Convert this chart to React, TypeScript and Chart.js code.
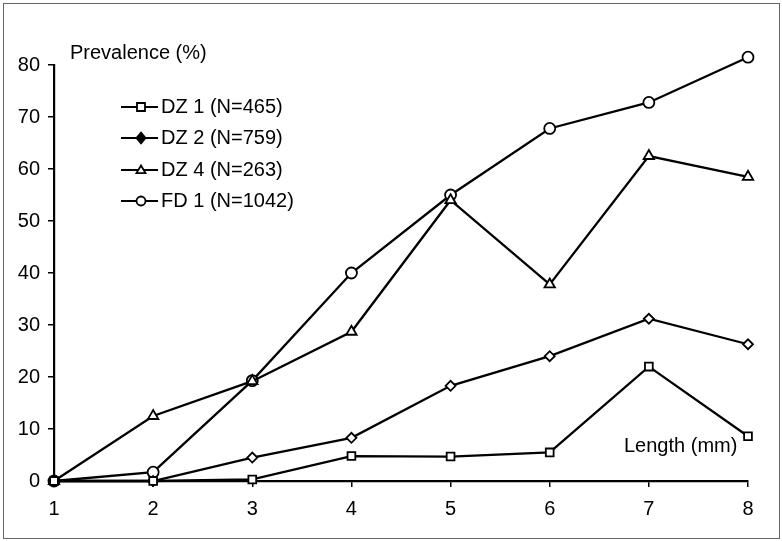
import React, { useEffect, useRef } from "react";
import { Chart, registerables } from "chart.js";

Chart.register(...registerables);

const lengths = [1, 2, 3, 4, 5, 6, 7, 8];
const dz1 = [0, 0, 0.3, 4.8, 4.7, 5.5, 22, 8.6];
const dz2 = [0, 0, 4.5, 8.3, 18.3, 24, 31.2, 26.3];
const dz4 = [0, 12.5, 19.2, 28.7, 54, 37.8, 62.5, 58.5];
const fd1 = [0, 1.7, 19.3, 40, 55, 67.8, 72.8, 81.5];
const seriesNames = ["DZ 1 (N=465)", "DZ 2 (N=759)", "DZ 4 (N=263)", "FD 1 (N=1042)"];
const seriesMarkers = ["rect", "rectRot", "triangle", "circle"];
const seriesRadius = [5.5, 5, 6, 5.5];
const legendFilled = [false, true, false, false];
const yTicks = [0, 10, 20, 30, 40, 50, 60, 70, 80];

const FONT = '"Liberation Sans", Arial, sans-serif';

function drawMarker(ctx: CanvasRenderingContext2D, style: string, x: number, y: number, r: number, filled: boolean) {
  ctx.save();
  ctx.beginPath();
  if (style === "rect") {
    ctx.rect(x - r, y - r, 2 * r, 2 * r);
  } else if (style === "rectRot") {
    ctx.moveTo(x, y - r * 1.2);
    ctx.lineTo(x + r, y);
    ctx.lineTo(x, y + r * 1.2);
    ctx.lineTo(x - r, y);
    ctx.closePath();
  } else if (style === "triangle") {
    ctx.moveTo(x, y - r);
    ctx.lineTo(x + r, y + r * 0.7);
    ctx.lineTo(x - r, y + r * 0.7);
    ctx.closePath();
  } else {
    ctx.arc(x, y, r, 0, Math.PI * 2);
  }
  ctx.fillStyle = filled ? "#000" : "#fff";
  ctx.fill();
  ctx.lineWidth = 1.8;
  ctx.strokeStyle = "#000";
  ctx.stroke();
  ctx.restore();
}

const annotationPlugin = {
  id: "annotations",
  afterDatasetsDraw(chart: any) {
    // draw markers of points that lie outside the chart area (library skips them)
    const ctx: CanvasRenderingContext2D = chart.ctx;
    const area = chart.chartArea;
    chart.data.datasets.forEach((_: any, di: number) => {
      const meta = chart.getDatasetMeta(di);
      meta.data.forEach((pt: any) => {
        if (pt.y < area.top - 1) {
          drawMarker(ctx, seriesMarkers[di], pt.x, pt.y, seriesRadius[di], false);
        }
      });
    });
  },
  afterDraw(chart: any) {
    const ctx: CanvasRenderingContext2D = chart.ctx;
    ctx.save();
    ctx.fillStyle = "#000";
    ctx.font = `20px ${FONT}`;
    ctx.textBaseline = "middle";
    ctx.textAlign = "left";
    ctx.fillText("Prevalence (%)", 70, 53);
    ctx.fillText("Length (mm)", 624, 446);
    const rowsY = [107, 138, 170, 201];
    seriesNames.forEach((name, i) => {
      const y = rowsY[i];
      ctx.beginPath();
      ctx.moveTo(121, y);
      ctx.lineTo(158, y);
      ctx.lineWidth = 2.2;
      ctx.strokeStyle = "#000";
      ctx.stroke();
      drawMarker(ctx, seriesMarkers[i], 141, y, i === 0 ? 4 : 4.5, legendFilled[i]);
      ctx.fillStyle = "#000";
      ctx.fillText(name, 161, y);
    });
    ctx.restore();
  },
};

export default function App() {
  const ref = useRef<HTMLCanvasElement | null>(null);
  useEffect(() => {
    if (!ref.current) return;
    const mk = (data: number[], i: number) => ({
      data: data.map((v, k) => ({ x: lengths[k], y: v })),
      borderColor: "#000",
      borderWidth: 2.3,
      backgroundColor: "#fff",
      pointStyle: seriesMarkers[i],
      pointRadius: seriesRadius[i],
      pointBorderWidth: 1.8,
      pointBackgroundColor: "#fff",
      pointBorderColor: "#000",
      clip: false as any,
      tension: 0,
    });
    const chart = new Chart(ref.current, {
      type: "line",
      data: {
        datasets: [mk(dz1, 0), mk(dz2, 1), mk(dz4, 2), mk(fd1, 3)] as any,
      },
      options: {
        animation: false,
        responsive: false,
        devicePixelRatio: 1,
        layout: { padding: { left: 0, right: 34, top: 65, bottom: 0 } },
        plugins: { legend: { display: false }, tooltip: { enabled: false } },
        scales: {
          x: {
            type: "linear",
            min: 1,
            max: 8,
            afterFit: (s: any) => {
              s.height = 60;
            },
            ticks: {
              stepSize: 1,
              color: "#000",
              font: { family: FONT, size: 20 },
              padding: 10,
            },
            grid: {
              display: true,
              drawOnChartArea: false,
              drawTicks: true,
              tickLength: 6,
              color: "#000",
              lineWidth: 1.5,
            },
            border: { display: true, color: "#000", width: 2.2 },
          },
          y: {
            type: "linear",
            min: 0,
            max: 80,
            afterFit: (s: any) => {
              s.width = 54;
            },
            afterBuildTicks: (s: any) => {
              s.ticks = yTicks.map((v) => ({ value: v }));
            },
            ticks: {
              color: "#000",
              font: { family: FONT, size: 20 },
              padding: 8,
            },
            grid: {
              display: true,
              drawOnChartArea: false,
              drawTicks: true,
              tickLength: 6,
              color: "#000",
              lineWidth: 1.5,
            },
            border: { display: true, color: "#000", width: 2.2 },
          },
        },
      },
      plugins: [annotationPlugin],
    });
    return () => chart.destroy();
  }, []);
  return (
    <div style={{ position: "absolute", left: 0, top: 0, width: 782, height: 541, background: "#fff" }}>
      <canvas ref={ref} width={782} height={541} style={{ position: "absolute", left: 0, top: 0 }} />
      <div
        style={{
          position: "absolute",
          left: 3,
          top: 3,
          width: 775,
          height: 534,
          border: "1px solid #666",
          pointerEvents: "none",
        }}
      />
    </div>
  );
}
